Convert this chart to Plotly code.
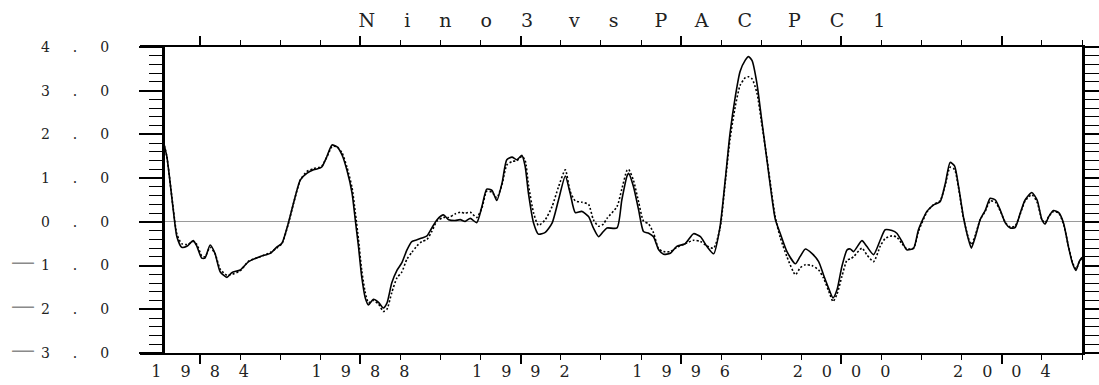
import plotly.graph_objects as go

# Sample times (decimal years) shared by both series
years = [
    1983.08, 1983.17, 1983.33, 1983.42, 1983.54, 1983.67, 1983.83, 1983.92,
    1984.04, 1984.12, 1984.25, 1984.37, 1984.50, 1984.67, 1984.79, 1985.00,
    1985.21, 1985.50, 1985.75, 1985.91, 1986.04, 1986.20, 1986.33, 1986.50,
    1986.66, 1986.83, 1986.99, 1987.04, 1987.16, 1987.29, 1987.41, 1987.54,
    1987.66, 1987.79, 1987.87, 1987.95, 1988.03, 1988.12, 1988.20, 1988.32,
    1988.45, 1988.57, 1988.66, 1988.78, 1988.91, 1989.03, 1989.16, 1989.28,
    1989.41, 1989.53, 1989.66, 1989.78, 1989.91, 1990.07, 1990.20, 1990.36,
    1990.49, 1990.61, 1990.74, 1990.90, 1991.03, 1991.15, 1991.28, 1991.40,
    1991.53, 1991.65, 1991.78, 1991.90, 1992.03, 1992.11, 1992.19, 1992.32,
    1992.44, 1992.61, 1992.78, 1992.94, 1993.11, 1993.23, 1993.36, 1993.52,
    1993.69, 1993.81, 1993.94, 1994.06, 1994.15, 1994.40, 1994.52, 1994.65,
    1994.69, 1994.81, 1994.94, 1995.06, 1995.19, 1995.31, 1995.44, 1995.56,
    1995.73, 1995.89, 1996.10, 1996.31, 1996.48, 1996.64, 1996.81, 1996.97,
    1997.10, 1997.22, 1997.35, 1997.47, 1997.60, 1997.68, 1997.77, 1997.89,
    1998.01, 1998.14, 1998.26, 1998.35, 1998.47, 1998.64, 1998.85, 1998.97,
    1999.10, 1999.26, 1999.43, 1999.55, 1999.68, 1999.79, 1999.89, 2000.01,
    2000.14, 2000.22, 2000.30, 2000.51, 2000.63, 2000.80, 2000.97, 2001.09,
    2001.26, 2001.38, 2001.51, 2001.63, 2001.80, 2001.92, 2002.13, 2002.30,
    2002.46, 2002.59, 2002.71, 2002.82, 2002.92, 2003.04, 2003.17, 2003.24,
    2003.34, 2003.46, 2003.59, 2003.71, 2003.84, 2003.96, 2004.09, 2004.21,
    2004.33, 2004.46, 2004.58, 2004.75, 2004.88, 2005.00, 2005.08, 2005.17,
    2005.29, 2005.42, 2005.54, 2005.66, 2005.76, 2005.85, 2005.93, 2006.00,
]

# Nino3 index (solid line)
nino3 = [
    1.84, 1.49, 0.27, -0.34, -0.58, -0.56, -0.43, -0.56,
    -0.83, -0.83, -0.53, -0.72, -1.14, -1.27, -1.16, -1.10,
    -0.91, -0.79, -0.72, -0.58, -0.49, -0.03, 0.43, 0.96,
    1.11, 1.19, 1.23, 1.26, 1.49, 1.76, 1.72, 1.53,
    1.19, 0.66, 0.05, -0.56, -1.25, -1.74, -1.90, -1.77,
    -1.84, -1.97, -1.86, -1.40, -1.11, -0.94, -0.64, -0.45,
    -0.41, -0.37, -0.32, -0.14, 0.05, 0.16, 0.05, 0.03,
    0.05, 0.01, 0.08, -0.02, 0.35, 0.75, 0.72, 0.49,
    0.88, 1.42, 1.48, 1.42, 1.52, 1.26, 0.66, -0.03,
    -0.28, -0.24, -0.03, 0.50, 1.05, 0.66, 0.21, 0.24,
    0.12, -0.14, -0.34, -0.22, -0.14, -0.14, 0.50, 1.05,
    1.11, 0.81, 0.27, -0.22, -0.26, -0.34, -0.64, -0.74,
    -0.72, -0.56, -0.50, -0.27, -0.34, -0.56, -0.73, -0.11,
    0.96, 2.03, 2.86, 3.44, 3.70, 3.78, 3.69, 3.17,
    2.33, 1.42, 0.58, 0.05, -0.26, -0.68, -0.96, -0.79,
    -0.62, -0.72, -0.91, -1.21, -1.52, -1.74, -1.55, -1.02,
    -0.64, -0.62, -0.68, -0.43, -0.56, -0.75, -0.41, -0.18,
    -0.20, -0.26, -0.45, -0.64, -0.60, -0.18, 0.24, 0.39,
    0.46, 0.88, 1.36, 1.28, 0.81, 0.12, -0.41, -0.60,
    -0.34, 0.05, 0.27, 0.54, 0.50, 0.27, -0.03, -0.14,
    -0.13, 0.20, 0.50, 0.67, 0.50, 0.05, -0.05, 0.12,
    0.26, 0.21, -0.03, -0.56, -0.94, -1.11, -0.91, -0.81,
]

# PAC PC1 (dotted line)
pac_pc1 = [
    1.84, 1.49, 0.30, -0.28, -0.50, -0.52, -0.45, -0.52,
    -0.78, -0.80, -0.58, -0.72, -1.08, -1.22, -1.20, -1.12,
    -0.90, -0.80, -0.70, -0.60, -0.50, -0.05, 0.42, 0.96,
    1.15, 1.22, 1.25, 1.28, 1.48, 1.72, 1.72, 1.58,
    1.26, 0.78, 0.22, -0.40, -1.10, -1.62, -1.85, -1.80,
    -1.88, -2.05, -2.00, -1.62, -1.28, -1.15, -0.85, -0.70,
    -0.55, -0.45, -0.40, -0.22, 0.02, 0.10, 0.10, 0.18,
    0.22, 0.20, 0.22, 0.10, 0.32, 0.70, 0.68, 0.55,
    0.85, 1.30, 1.38, 1.40, 1.50, 1.40, 0.85, 0.20,
    -0.08, 0.05, 0.35, 0.80, 1.19, 0.70, 0.48, 0.45,
    0.40, 0.05, -0.10, -0.05, 0.08, 0.35, 0.75, 1.18,
    1.20, 0.95, 0.45, 0.02, -0.05, -0.25, -0.62, -0.68,
    -0.68, -0.58, -0.50, -0.42, -0.45, -0.55, -0.60, -0.15,
    0.90, 1.90, 2.64, 3.12, 3.30, 3.32, 3.27, 2.95,
    2.25, 1.45, 0.65, 0.10, -0.35, -0.80, -1.21, -1.05,
    -0.98, -1.00, -1.10, -1.28, -1.58, -1.82, -1.65, -1.25,
    -0.87, -0.85, -0.80, -0.60, -0.75, -0.91, -0.55, -0.38,
    -0.32, -0.35, -0.50, -0.62, -0.60, -0.22, 0.22, 0.40,
    0.48, 0.85, 1.25, 1.20, 0.78, 0.10, -0.38, -0.52,
    -0.30, 0.05, 0.25, 0.48, 0.45, 0.25, -0.02, -0.12,
    -0.10, 0.18, 0.48, 0.62, 0.45, 0.05, -0.02, 0.12,
    0.24, 0.20, -0.05, -0.55, -0.92, -1.08, -0.92, -0.82,
]

year_ticks = [1984, 1988, 1992, 1996, 2000, 2004]
year_minor = [1985, 1986, 1987, 1989, 1990, 1991, 1993, 1994, 1995,
              1997, 1998, 1999, 2001, 2002, 2003, 2005, 2006]
value_ticks = [4, 3, 2, 1, 0, -1, -2, -3]
title_text = "Nino3 vs PAC PC1"

SERIF = "DejaVu Serif"


def spaced(s, gap):
    # widen the lettering: spacing after every glyph except the last one
    return f'<span style="letter-spacing:{gap}px">{s[:-1]}</span>{s[-1]}'


def value_label(v):
    body = spaced(f"{abs(v):.1f}", 23)
    if v < 0:
        return ('<span style="color:#8a8a8a;font-size:24px;letter-spacing:6px">—</span>'
                + body)
    return body


year_text = [spaced(str(y), 19) for y in year_ticks]
value_text = [value_label(v) for v in value_ticks]

title_html = ('<span style="letter-spacing:29px;word-spacing:-28px">'
              + title_text[:-1] + '</span>' + title_text[-1])

fig = go.Figure()
fig.add_trace(go.Scatter(
    x=years, y=pac_pc1, mode="lines", yaxis="y2",
    line=dict(color="black", width=1.6, dash="2px,2px", shape="spline", smoothing=0.6),
    showlegend=False, hoverinfo="skip",
))
fig.add_trace(go.Scatter(
    x=years, y=nino3, mode="lines",
    line=dict(color="black", width=1.6, shape="spline", smoothing=0.6),
    showlegend=False, hoverinfo="skip",
))

L, R, T, B = 140, 17, 47, 32
W, H = 1099, 385
plot_w = W - L - R
yaxis_pos = 23 / plot_w

fig.update_layout(
    width=W, height=H,
    margin=dict(l=L, r=R, t=T, b=B),
    paper_bgcolor="white", plot_bgcolor="white",
    title=dict(
        text=title_html,
        font=dict(family=SERIF, size=19, color="#222"),
        x=(622 - L) / plot_w, xref="paper", xanchor="center",
        y=1 - 20 / H, yref="container", yanchor="middle",
    ),
    xaxis=dict(
        range=[1982.5, 2006.0],
        tickmode="array", tickvals=year_ticks, ticktext=year_text,
        ticks="outside", ticklen=9, tickwidth=2, tickcolor="black",
        showline=True, linewidth=2, linecolor="black", mirror="ticks",
        showgrid=False, zeroline=False, automargin=False,
        tickfont=dict(family=SERIF, size=16, color="#222"),
        ticklabelstandoff=-6,
        minor=dict(tickmode="array", tickvals=year_minor, ticks="outside",
                   ticklen=5, tickwidth=1, tickcolor="black"),
    ),
    yaxis=dict(
        range=[-3, 4], anchor="free", position=yaxis_pos, side="left",
        tickmode="array", tickvals=value_ticks, ticktext=value_text,
        ticks="outside", ticklen=23, tickwidth=1.5, tickcolor="black",
        showline=True, linewidth=3, linecolor="black",
        showgrid=False, automargin=False,
        zeroline=True, zerolinecolor="#9a9a9a", zerolinewidth=1,
        tickfont=dict(family=SERIF, size=14, color="#222"),
        ticklabelstandoff=27,
        minor=dict(dtick=0.2, tick0=0, ticks="outside",
                   ticklen=13, tickwidth=1, tickcolor="black"),
    ),
    yaxis2=dict(
        range=[-3, 4], overlaying="y", side="right", anchor="x",
        tickmode="array", tickvals=value_ticks, showticklabels=False,
        ticks="outside", ticklen=23, tickwidth=1.5, tickcolor="black",
        showline=True, linewidth=3, linecolor="black",
        showgrid=False, zeroline=False, automargin=False,
        minor=dict(dtick=0.2, tick0=0, ticks="outside",
                   ticklen=18, tickwidth=1, tickcolor="black"),
    ),
)

fig.write_html("out.html")
